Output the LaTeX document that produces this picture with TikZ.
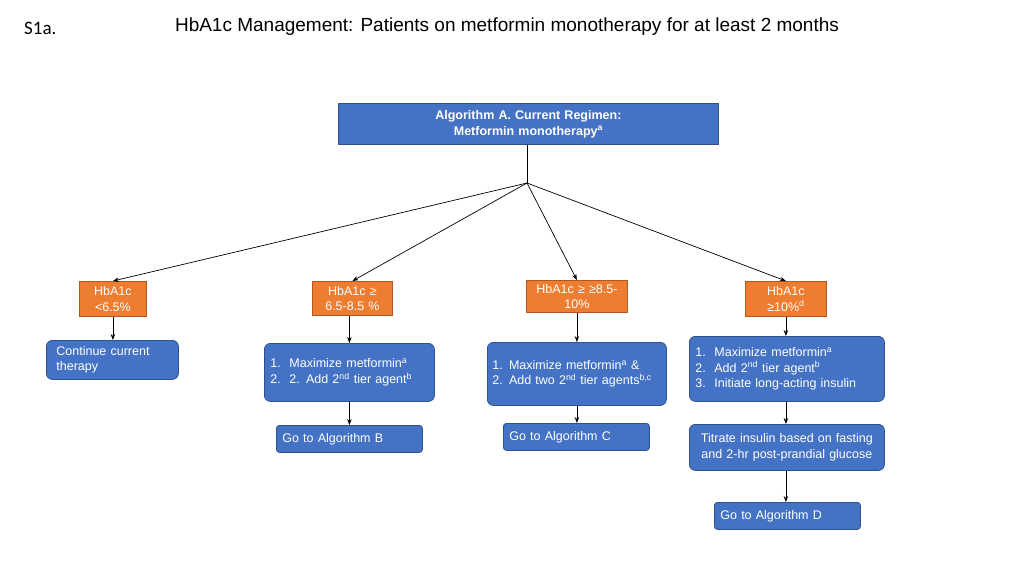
\documentclass[tikz,border=0pt]{standalone}
\usepackage{fontspec}
\setmainfont{Liberation Sans}
\newfontfamily\calibrifont{Carlito}
\usetikzlibrary{arrows.meta}
\definecolor{myblue}{HTML}{4472C4}
\definecolor{bordblue}{HTML}{2F528F}
\definecolor{myorange}{HTML}{ED7D31}
\definecolor{bordorange}{HTML}{B5581D}
\tikzset{
  boxbase/.style={anchor=north west, inner ysep=0pt, text=white, line width=0.8pt, font=\fontsize{12.5}{15.5}\selectfont},
  bluebox/.style={boxbase, draw=bordblue, fill=myblue, rounded corners=6pt},
  topbox/.style={boxbase, draw=bordblue, fill=myblue, font=\fontsize{12.5}{16}\selectfont\bfseries, align=center},
  orangebox/.style={boxbase, draw=bordorange, fill=myorange, align=center},
  conn/.style={-{Stealth[length=6pt,width=4.5pt]}, line width=0.7pt, black},
  plainline/.style={line width=0.7pt, black},
}
\newcommand{\sq}[1]{\textsuperscript{#1}}
\newcommand{\itm}[1]{\makebox[19pt][l]{#1}}
\begin{document}
\begin{tikzpicture}[x=1pt,y=-1pt]
\useasboundingbox (0,0) rectangle (1024,576);
\node[font=\calibrifont\fontsize{19}{22}\selectfont, anchor=west, inner sep=0pt] (s1a) at (24,28) {S1a.};
\node[font=\fontsize{19}{22}\selectfont] (title) at (507,27) {HbA1c Management: Patients on metformin monotherapy for at least 2 months};

\node[topbox, minimum width=380pt, minimum height=41pt, text width=370pt] (top) at (338,103) {Algorithm A. Current Regimen:\\Metformin monotherapy\sq{a}};
\coordinate (j) at (527,183);

\node[orangebox, minimum width=67pt, minimum height=35pt, text width=63pt, inner xsep=2pt] (o1) at (79,281) {HbA1c\\<6.5\%};
\node[orangebox, minimum width=80pt, minimum height=34pt, text width=76pt, inner xsep=2pt] (o2) at (312,281) {HbA1c ≥\\6.5-8.5 \%};
\node[orangebox, minimum width=101pt, minimum height=32pt, text width=97pt, inner xsep=2pt] (o3) at (526,280) {HbA1c ≥ ≥8.5-\\10\%};
\node[orangebox, minimum width=81pt, minimum height=35pt, text width=77pt, inner xsep=2pt] (o4) at (745,281) {HbA1c\\≥10\%\sq{d}};

\node[bluebox, minimum width=132pt, minimum height=39pt, text width=112pt, inner xsep=10pt, align=left] (c1) at (46,340) {Continue current\\therapy};

\node[bluebox, minimum width=170pt, minimum height=58pt, text width=158pt, inner xsep=6pt, align=left] (m2) at (264,343) {\itm{1.}Maximize metformin\sq{a}\\\itm{2.}2. Add 2\sq{nd} tier agent\sq{b}};
\node[bluebox, rounded corners=3pt, minimum width=146pt, minimum height=27pt, text width=134pt, inner xsep=6pt, align=left] (g2) at (276,425) {Go to Algorithm B};

\node[bluebox, minimum width=179pt, minimum height=63pt, text width=169pt, inner xsep=5pt, align=left] (m3) at (487,342) {1. Maximize metformin\sq{a} \&\\2. Add two 2\sq{nd} tier agents\sq{b,c}};
\node[bluebox, rounded corners=3pt, minimum width=146pt, minimum height=27pt, text width=134pt, inner xsep=6pt, align=left] (g3) at (503,423) {Go to Algorithm C};

\node[bluebox, minimum width=195pt, minimum height=65pt, text width=183pt, inner xsep=6pt, align=left] (m4) at (689,336) {\itm{1.}Maximize metformin\sq{a}\\\itm{2.}Add 2\sq{nd} tier agent\sq{b}\\\itm{3.}Initiate long-acting insulin};
\node[bluebox, minimum width=195pt, minimum height=46pt, text width=189pt, inner xsep=3pt, align=center] (t4) at (689,424) {Titrate insulin based on fasting\\and 2-hr post-prandial glucose};
\node[bluebox, rounded corners=3pt, minimum width=146pt, minimum height=27pt, text width=134pt, inner xsep=6pt, align=left] (g4) at (714,502) {Go to Algorithm D};

\draw[plainline] (top.south -| j) -- (j);
\draw[conn] (j) -- (o1.north);
\draw[conn] (j) -- (o2.north);
\draw[conn] (j) -- (o3.north);
\draw[conn] (j) -- (o4.north);

\draw[conn] (o1.south) -- (c1.north -| o1.south);
\draw[conn] (o2.south -| m2.north) -- (m2.north);
\draw[conn] (m2.south) -- (g2.north -| m2.south);
\draw[conn] (o3.south) -- (m3.north -| o3.south);
\draw[conn] (m3.south -| o3.south) -- (g3.north -| o3.south);
\draw[conn] (o4.south) -- (m4.north -| o4.south);
\draw[conn] (m4.south -| o4.south) -- (t4.north -| o4.south);
\draw[conn] (t4.south -| o4.south) -- (g4.north -| o4.south);
\end{tikzpicture}
\end{document}
